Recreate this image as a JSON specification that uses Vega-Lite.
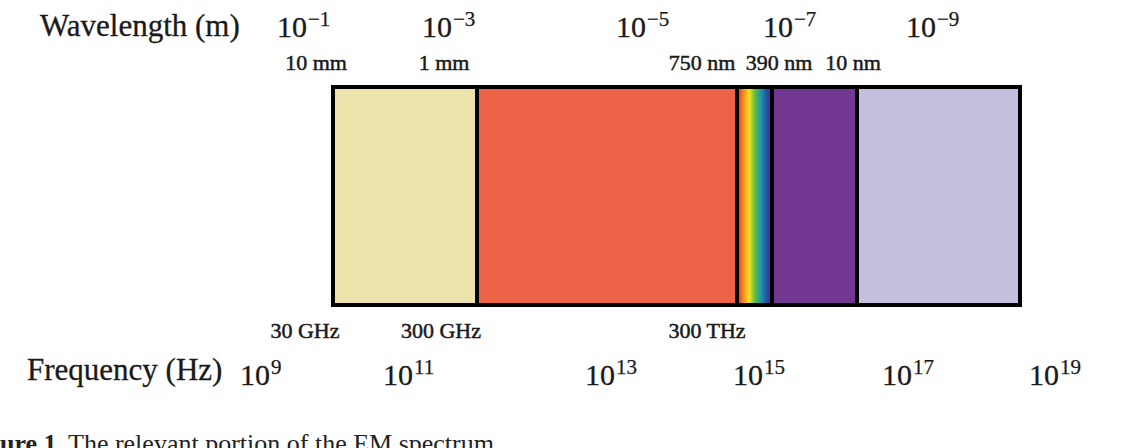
{
  "$schema": "https://vega.github.io/schema/vega-lite/v6.json",
  "width": 1140,
  "height": 448,
  "autosize": {"type": "fit", "contains": "padding"},
  "padding": 0,
  "background": "white",
  "config": {"view": {"stroke": null}},
  "datasets": {
    "bands": [
      {"band": "Microwave", "x": 333, "x_end": 477, "y": 87, "y_end": 305},
      {"band": "Infrared", "x": 477, "x_end": 737, "y": 87, "y_end": 305},
      {"band": "Visible", "x": 737, "x_end": 772, "y": 87, "y_end": 305},
      {"band": "Ultraviolet", "x": 772, "x_end": 857, "y": 87, "y_end": 305},
      {"band": "X-ray", "x": 857, "x_end": 1020, "y": 87, "y_end": 305}
    ],
    "titles": [
      {"text": "Wavelength (m)", "x": 40, "y": 36},
      {"text": "Frequency (Hz)", "x": 27, "y": 380}
    ],
    "powers": [
      {"scale": "wavelength", "base": "10", "exp": "−1", "x": 307, "y": 37},
      {"scale": "wavelength", "base": "10", "exp": "−3", "x": 452, "y": 37},
      {"scale": "wavelength", "base": "10", "exp": "−5", "x": 646, "y": 37},
      {"scale": "wavelength", "base": "10", "exp": "−7", "x": 793, "y": 37},
      {"scale": "wavelength", "base": "10", "exp": "−9", "x": 936, "y": 37},
      {"scale": "frequency", "base": "10", "exp": "9", "x": 270, "y": 385},
      {"scale": "frequency", "base": "10", "exp": "11", "x": 413, "y": 385},
      {"scale": "frequency", "base": "10", "exp": "13", "x": 615, "y": 385},
      {"scale": "frequency", "base": "10", "exp": "15", "x": 763, "y": 385},
      {"scale": "frequency", "base": "10", "exp": "17", "x": 912, "y": 385},
      {"scale": "frequency", "base": "10", "exp": "19", "x": 1059, "y": 385}
    ],
    "edges": [
      {"text": "10 mm", "x": 316, "y": 70},
      {"text": "1 mm", "x": 444, "y": 70},
      {"text": "750 nm", "x": 702, "y": 70},
      {"text": "390 nm", "x": 779, "y": 70},
      {"text": "10 nm", "x": 853, "y": 70},
      {"text": "30 GHz", "x": 305, "y": 338},
      {"text": "300 GHz", "x": 441, "y": 338},
      {"text": "300 THz", "x": 707, "y": 338}
    ],
    "caption": [
      {"part": "label", "text": "ure 1.", "x": 0, "y": 452},
      {"part": "body", "text": "The relevant portion of the EM spectrum.", "x": 68, "y": 452}
    ]
  },
  "encoding": {
    "x": {"field": "x", "type": "quantitative", "scale": {"domain": [0, 1140], "nice": false, "zero": false}, "axis": null},
    "y": {"field": "y", "type": "quantitative", "scale": {"domain": [0, 448], "nice": false, "zero": false, "reverse": true}, "axis": null}
  },
  "layer": [
    {
      "data": {"name": "bands"},
      "transform": [{"filter": "datum.band !== 'Visible'"}],
      "mark": {"type": "rect", "stroke": "#000000", "strokeWidth": 4},
      "encoding": {
        "x2": {"field": "x_end"},
        "y2": {"field": "y_end"},
        "fill": {
          "field": "band", "type": "nominal", "legend": null,
          "scale": {"domain": ["Microwave", "Infrared", "Ultraviolet", "X-ray"], "range": ["#ECE2AB", "#EE6248", "#733891", "#C6BEDD"]}
        }
      }
    },
    {
      "data": {"name": "bands"},
      "transform": [{"filter": "datum.band === 'Visible'"}],
      "mark": {
        "type": "rect", "stroke": "#000000", "strokeWidth": 4,
        "fill": {
          "gradient": "linear", "x1": 0, "x2": 1, "y1": 0, "y2": 0,
          "stops": [
            {"offset": 0, "color": "#E8262A"},
            {"offset": 0.18, "color": "#F58A1F"},
            {"offset": 0.35, "color": "#F2E41C"},
            {"offset": 0.52, "color": "#5DB848"},
            {"offset": 0.68, "color": "#1A98AE"},
            {"offset": 0.84, "color": "#2752A3"},
            {"offset": 1, "color": "#3A2E85"}
          ]
        }
      },
      "encoding": {
        "x2": {"field": "x_end"},
        "y2": {"field": "y_end"}
      }
    },
    {
      "data": {"name": "titles"},
      "mark": {"type": "text", "align": "left", "baseline": "alphabetic", "font": "Liberation Serif", "fontSize": 31, "color": "#1a1a1a", "stroke": "#1a1a1a", "strokeWidth": 0.3},
      "encoding": {"text": {"field": "text"}}
    },
    {
      "data": {"name": "powers"},
      "mark": {"type": "text", "align": "right", "baseline": "alphabetic", "font": "Liberation Serif", "fontSize": 30, "color": "#1a1a1a", "stroke": "#1a1a1a", "strokeWidth": 0.3},
      "encoding": {"text": {"field": "base"}}
    },
    {
      "data": {"name": "powers"},
      "mark": {"type": "text", "align": "left", "baseline": "alphabetic", "font": "Liberation Serif", "fontSize": 21, "dx": 1, "dy": -11, "color": "#1a1a1a", "stroke": "#1a1a1a", "strokeWidth": 0.25},
      "encoding": {"text": {"field": "exp"}}
    },
    {
      "data": {"name": "edges"},
      "mark": {"type": "text", "align": "center", "baseline": "alphabetic", "font": "Liberation Serif", "fontSize": 22, "color": "#1a1a1a", "stroke": "#1a1a1a", "strokeWidth": 0.5},
      "encoding": {"text": {"field": "text"}}
    },
    {
      "data": {"name": "caption"},
      "transform": [{"filter": "datum.part === 'label'"}],
      "mark": {"type": "text", "clip": true, "align": "left", "baseline": "alphabetic", "font": "Liberation Serif", "fontSize": 26, "fontWeight": "bold", "color": "#222222"},
      "encoding": {"text": {"field": "text"}}
    },
    {
      "data": {"name": "caption"},
      "transform": [{"filter": "datum.part === 'body'"}],
      "mark": {"type": "text", "clip": true, "align": "left", "baseline": "alphabetic", "font": "Liberation Serif", "fontSize": 26, "color": "#222222"},
      "encoding": {"text": {"field": "text"}}
    }
  ]
}
